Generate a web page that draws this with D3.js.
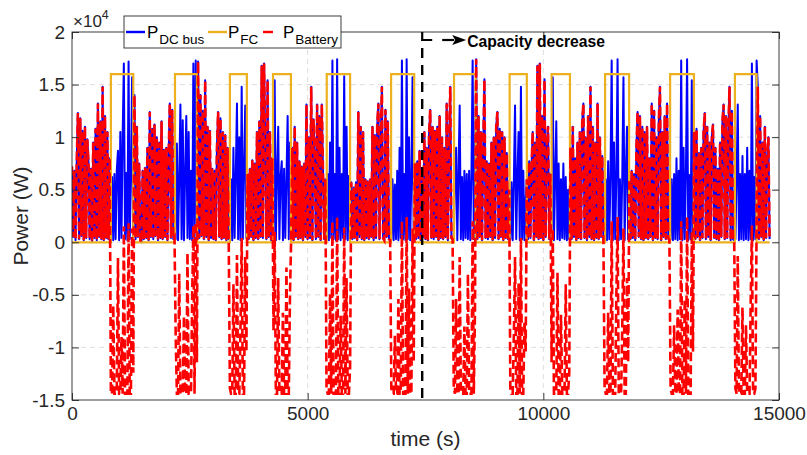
<!DOCTYPE html>
<html><head><meta charset="utf-8">
<script src="https://cdn.jsdelivr.net/npm/d3@7"></script>
<style>
body{margin:0;background:#fff}
svg{display:block}
text{font-family:"Liberation Sans",Arial,Helvetica,sans-serif;}
</style>
</head><body>
<svg id="chart" width="807" height="455"></svg>
<script>
// ---------------- DATA (kW, sampled every 25 s) ----------------
const sampleStep = 25; // seconds between samples
const pDcBus = [
 7.2,0.5,6.8,0.2,7.5,12.3,0.3,11.8,0.6,10.6,0.2,11.0,0.4,9.8,7.6,0.3,7.0,0,9.5,0.4,10.8,0.2,13.2,0.5,11.5,0.3,14.8,0.2,12.0,0.4,10.5,0.3,8.0,
 0.3,6.2,0.2,6.5,0.3,6.8,8.7,0.2,10.5,0.4,10.2,17.0,0.3,6.6,0.2,17.2,0.3,6.2,15.7,0.4,
 14.0,0.3,11.0,0.5,7.5,0.2,0,6.8,0.3,7.1,0.4,9.0,0.2,12.4,0.5,10.8,0.3,11.2,0.6,10.0,0.2,9.5,0.4,11.5,0.3,8.8,0.5,9.0,0.2,8.2,13.2,0.4,12.6,0.3,0.5,
 0.3,9.4,0.2,6.0,13.1,0.3,11.6,0.2,6.5,12.0,0.4,10.5,0.3,6.8,0.2,17.0,0.3,17.3,0.4,
 17.2,0.4,14.0,0.6,12.5,0.3,15.4,0.5,11.0,0.2,10.6,0.4,7.0,0.3,6.8,0.2,9.0,12.4,0.5,11.8,0.3,10.5,0.4,10.2,0.2,9.0,0.3,
 0.3,6.0,0.2,9.0,0.4,6.5,13.2,0.3,10.0,0.2,14.8,0.3,7.0,13.0,0.4,
 6.5,0.3,7.0,0.5,7.8,0.2,7.5,0.4,10.5,0.3,11.5,0.5,16.8,0.4,17.0,9.0,0.3,15.4,0.5,10.5,0.2,8.0,
 0.3,15.4,0.2,6.5,11.0,0.3,6.2,7.7,0.2,7.0,0.4,6.0,12.0,0.3,9.5,
 0.4,9.0,0.2,11.0,0.5,9.5,0.3,7.7,0.4,7.2,0.2,7.5,0.5,13.1,0.3,10.0,0.4,14.8,0.2,11.7,8.0,0.3,13.1,0.5,12.0,0.2,13.1,6.8,0.3,6.0,
 0.3,6.5,0.2,9.5,0.4,17.3,0.3,6.5,0.2,17.4,0.3,9.0,0.2,6.5,0.4,15.8,0.3,11.0,0.2,6.3,0.4,
 5.7,0.3,5.2,0.4,5.7,0.2,12.4,0.5,11.0,0.3,10.5,0.2,6.0,0.4,5.8,0.3,6.0,0.5,11.0,0.2,10.2,0.4,11.0,13.2,0.3,9.5,14.8,0.4,0.2,12.6,0.5,11.5,0.3,0.2,
 0.3,6.0,0.2,5.5,0.3,6.8,0.2,9.0,0.4,17.3,0.3,6.5,0.2,17.4,0.3,10.0,0.2,6.0,15.7,0.4,
 7.5,0.3,7.7,0.4,8.7,0.2,7.0,0.5,10.5,0.3,9.0,0.2,10.2,12.6,0.4,11.0,0.3,10.6,0.5,11.0,0.2,12.0,0.4,10.0,0.3,9.0,0.5,13.2,0.2,9.0,14.8,0.4,0.3,
 0.3,6.0,9.0,0.2,6.5,13.0,0.3,6.2,0.2,6.8,0.4,6.5,0.3,6.8,0.2,6.4,17.3,0.3,8.0,
 17.4,0.3,12.0,0.5,10.5,0.2,9.0,15.5,0.4,7.7,0.3,7.5,0.5,9.5,0.2,10.0,0.4,11.0,12.4,0.3,10.8,0.5,10.5,0.2,10.0,0.4,8.5,0.3,5.0,
 0.3,5.7,0.2,6.0,13.0,0.3,6.2,10.5,0.2,14.8,0.3,6.8,0.2,4.0,
 6.0,0.3,7.7,0.4,7.2,10.5,0.2,9.5,0.5,16.8,0.3,17.0,0.4,12.0,0.2,15.5,0.5,9.5,11.0,0.3,6.5,
 0.3,15.7,0.2,6.0,11.5,0.3,7.5,0.2,6.0,0.4,7.5,0.3,6.2,0.2,5.0,0.3,
 9.0,0.3,11.0,0.5,8.0,0.2,9.5,0.4,10.5,0.3,11.5,13.2,0.4,10.0,0.2,12.0,0.5,14.8,0.3,11.0,0.2,9.5,0.4,13.2,0.3,10.0,0.5,8.2,0.2,
 0.3,6.0,0.2,7.7,0.3,6.5,17.3,0.2,9.5,0.3,6.5,17.4,0.2,6.0,0.3,6.4,15.7,0.2,6.5,11.0,0.3,
 6.0,0.3,6.8,0.4,6.5,0.2,9.0,12.4,0.5,12.0,0.3,11.0,0.2,10.5,0.4,11.0,0.3,8.0,0.5,13.2,0.2,12.5,0.4,10.0,0.3,11.5,14.8,0.2,10.5,0.5,12.0,0.3,13.2,0.4,0.2,
 0.3,6.0,0.2,6.5,0.3,8.0,0.2,6.8,0.3,17.3,0.2,9.0,0.3,6.5,17.4,0.2,6.4,0.3,15.4,0.4,
 10.5,0.3,10.8,0.5,8.5,0.2,9.0,0.4,10.5,12.3,0.3,11.0,0.5,9.5,0.2,10.0,11.2,0.4,9.0,0.3,7.0,0.2,9.5,0.5,11.5,13.1,0.3,12.0,0.4,10.5,14.8,0.2,12.5,0.3,0.2,
 0.3,6.0,13.1,0.2,6.5,0.3,8.2,0.2,6.5,0.3,9.0,0.2,6.8,0.3,17.0,0.2,6.2,0.3,17.3,
 14.8,0.3,12.0,0.5,9.5,0.2,11.0,0.4,8.0,10.0,0.3
];
const pBattery = [
 7.2,0.5,6.8,0.2,7.5,12.3,0.3,11.8,0.6,10.6,0.2,11.0,0.4,9.8,7.6,0.3,7.0,0,9.5,0.4,10.8,0.2,13.2,0.5,11.5,0.3,14.8,0.2,12.0,0.4,10.5,0.3,8.0,
 -14.4,-14.4,-6.0,-14.4,-14.4,-14.4,-1.5,-14.4,-14.4,-9.0,-14.4,1.5,-14.4,-14.4,-14.4,1.8,-14.4,-14.4,1.3,-12.4,
 14.0,0.3,11.0,0.5,7.5,0.2,0,6.8,0.3,7.1,0.4,9.0,0.2,12.4,0.5,10.8,0.3,11.2,0.6,10.0,0.2,9.5,0.4,11.5,0.3,8.8,0.5,9.0,0.2,8.2,13.2,0.4,12.6,0.3,0.5,
 -8.9,-14.4,-14.4,-3.0,-14.4,-14.4,-14.4,-7.0,-14.4,-14.4,-1.0,-14.4,-14.4,-14.4,-5.0,1.6,-14.4,1.9,-11.4,
 17.2,0.4,14.0,0.6,12.5,0.3,15.4,0.5,11.0,0.2,10.6,0.4,7.0,0.3,6.8,0.2,9.0,12.4,0.5,11.8,0.3,10.5,0.4,10.2,0.2,9.0,0.3,
 -13.9,-14.4,-14.4,-4.0,-14.4,-14.4,-1.2,-14.4,-14.4,-8.0,0.4,-14.4,-14.4,-1.4,-10.4,
 6.5,0.3,7.0,0.5,7.8,0.2,7.5,0.4,10.5,0.3,11.5,0.5,16.8,0.4,17.0,9.0,0.3,15.4,0.5,10.5,0.2,8.0,
 -8.4,1.0,-14.4,-14.4,-3.4,-14.4,-14.4,-14.4,-6.7,-14.4,-14.4,-2.4,-14.4,-14.4,-4.9,
 0.4,9.0,0.2,11.0,0.5,9.5,0.3,7.7,0.4,7.2,0.2,7.5,0.5,13.1,0.3,10.0,0.4,14.8,0.2,11.7,8.0,0.3,13.1,0.5,12.0,0.2,13.1,6.8,0.3,6.0,
 -13.9,-14.4,-14.4,-4.9,-14.4,2.0,-14.4,-14.4,-14.4,2.4,-14.4,-14.4,-7.0,-14.4,-14.4,1.4,-14.4,-3.4,-14.4,-14.4,-11.9,
 5.7,0.3,5.2,0.4,5.7,0.2,12.4,0.5,11.0,0.3,10.5,0.2,6.0,0.4,5.8,0.3,6.0,0.5,11.0,0.2,10.2,0.4,11.0,13.2,0.3,9.5,14.8,0.4,0.2,12.6,0.5,11.5,0.3,0.2,
 -13.9,-14.4,-14.4,-8.9,-14.4,-14.4,-5.4,-14.4,-14.4,2.0,-14.4,-14.4,-14.4,2.4,-14.4,-4.4,-14.4,-14.4,1.3,-11.4,
 7.5,0.3,7.7,0.4,8.7,0.2,7.0,0.5,10.5,0.3,9.0,0.2,10.2,12.6,0.4,11.0,0.3,10.6,0.5,11.0,0.2,12.0,0.4,10.0,0.3,9.0,0.5,13.2,0.2,9.0,14.8,0.4,0.3,
 -13.9,-14.4,-5.4,-14.4,-14.4,-1.4,-14.4,-14.4,-14.4,-8.0,-14.4,-14.4,-3.0,-14.4,-14.4,-14.4,2.0,-14.4,-6.4,
 17.4,0.3,12.0,0.5,10.5,0.2,9.0,15.5,0.4,7.7,0.3,7.5,0.5,9.5,0.2,10.0,0.4,11.0,12.4,0.3,10.8,0.5,10.5,0.2,10.0,0.4,8.5,0.3,5.0,
 -13.9,-14.4,-14.4,-8.7,-1.4,-14.4,-14.4,-3.9,-14.4,0.4,-14.4,-14.4,-7.6,-10.4,
 6.0,0.3,7.7,0.4,7.2,10.5,0.2,9.5,0.5,16.8,0.3,17.0,0.4,12.0,0.2,15.5,0.5,9.5,11.0,0.3,6.5,
 -11.4,1.3,-14.4,-14.4,-14.4,-2.9,-14.4,-14.4,-6.9,-14.4,-14.4,-14.4,-4.0,-14.4,-14.4,-12.4,
 9.0,0.3,11.0,0.5,8.0,0.2,9.5,0.4,10.5,0.3,11.5,13.2,0.4,10.0,0.2,12.0,0.5,14.8,0.3,11.0,0.2,9.5,0.4,13.2,0.3,10.0,0.5,8.2,0.2,
 -13.9,-14.4,-14.4,-6.7,-14.4,-14.4,2.0,-14.4,-14.4,-14.4,-4.9,2.4,-14.4,-14.4,-14.4,-8.0,1.3,-14.4,-14.4,-3.4,-11.4,
 6.0,0.3,6.8,0.4,6.5,0.2,9.0,12.4,0.5,12.0,0.3,11.0,0.2,10.5,0.4,11.0,0.3,8.0,0.5,13.2,0.2,12.5,0.4,10.0,0.3,11.5,14.8,0.2,10.5,0.5,12.0,0.3,13.2,0.4,0.2,
 -13.9,-14.4,-14.4,-7.9,-14.4,-14.4,-6.4,-14.4,-14.4,2.0,-14.4,-14.4,-5.4,-14.4,2.4,-14.4,-14.4,-14.4,1.0,-10.4,
 10.5,0.3,10.8,0.5,8.5,0.2,9.0,0.4,10.5,12.3,0.3,11.0,0.5,9.5,0.2,10.0,11.2,0.4,9.0,0.3,7.0,0.2,9.5,0.5,11.5,13.1,0.3,12.0,0.4,10.5,14.8,0.2,12.5,0.3,0.2,
 -13.9,-14.4,-1.3,-14.4,-14.4,-14.4,-6.2,-14.4,-14.4,-7.9,-14.4,-14.4,-14.4,-5.4,1.6,-14.4,-14.4,-13.9,1.9,
 14.8,0.3,12.0,0.5,9.5,0.2,11.0,0.4,8.0,10.0,0.3
];
const fcOnTimes  = [825,2185,3350,4265,5405,6770,8105,9285,10175,11310,12690,14065];
const fcOffTimes = [1300,2650,3710,4645,5900,7260,8565,9650,10565,11820,13195,14525];
const fcRatedKW = 16;
const capacityDecreaseTime = 7430;
const xTickValues = [0,5000,10000,15000];
const yTickValues = [-15000,-10000,-5000,0,5000,10000,15000,20000];
const yTickLabels = ["-1.5","-1","-0.5","0","0.5","1","1.5","2"];
const seriesNames = ["DC bus","FC","Battery"];

// ---------------- BUILD ----------------
const timeS = pDcBus.map((_, i) => i * sampleStep);
const endTime = timeS[timeS.length - 1];
const fcPts = [[0,0]];
fcOnTimes.forEach((on, k) => {
  fcPts.push([on,0],[on,fcRatedKW],[fcOffTimes[k],fcRatedKW],[fcOffTimes[k],0]);
});
fcPts.push([endTime,0]);

const svg = d3.select("#chart");
const L = 72, R = 779, T = 32, B = 400;
const x = d3.scaleLinear().domain([0,15000]).range([L,R]);
const y = d3.scaleLinear().domain([-15000,20000]).range([B,T]);
const axisCol = "#262626";

// grid
const grid = svg.append("g").attr("stroke","#d4d4d4").attr("stroke-width",0.8).attr("stroke-dasharray","5,4");
yTickValues.slice(1,-1).forEach(v => grid.append("line").attr("x1",L).attr("x2",R).attr("y1",y(v)).attr("y2",y(v)));
xTickValues.slice(1,-1).forEach(v => grid.append("line").attr("y1",T).attr("y2",B).attr("x1",x(v)).attr("x2",x(v)));

// clip
svg.append("clipPath").attr("id","clip").append("rect").attr("x",L).attr("y",T).attr("width",R-L).attr("height",B-T);
const plot = svg.append("g").attr("clip-path","url(#clip)");

const lineKW = d3.line().x((d,i)=>x(timeS[i])).y(d=>y(d*1000));
plot.append("path").attr("d",lineKW(pDcBus)).attr("fill","none").attr("stroke","#0000ff").attr("stroke-width",2).attr("stroke-linejoin","round");
plot.append("path").attr("d",d3.line().x(d=>x(d[0])).y(d=>y(d[1]*1000))(fcPts)).attr("fill","none").attr("stroke","#EDB120").attr("stroke-width",2.2);
plot.append("path").attr("d",lineKW(pBattery)).attr("fill","none").attr("stroke","#ff0000").attr("stroke-width",2.6).attr("stroke-dasharray","9,4");

// capacity decrease marker
const xc = x(capacityDecreaseTime);
svg.append("line").attr("x1",xc).attr("x2",xc).attr("y1",T+8).attr("y2",B).attr("stroke","#000").attr("stroke-width",2.4).attr("stroke-dasharray","10,7").attr("stroke-dashoffset",-8);

// axes
const gx = svg.append("g").attr("transform",`translate(0,${B})`)
  .call(d3.axisBottom(x).tickValues(xTickValues).tickFormat(d3.format("d")).tickSizeInner(-7).tickSizeOuter(0).tickPadding(7));
const gy = svg.append("g").attr("transform",`translate(${L},0)`)
  .call(d3.axisLeft(y).tickValues(yTickValues).tickFormat((d,i)=>yTickLabels[i]).tickSizeInner(-7).tickSizeOuter(0).tickPadding(7));
const gxt = svg.append("g").attr("transform",`translate(0,${T})`)
  .call(d3.axisTop(x).tickValues(xTickValues).tickFormat("").tickSizeInner(-7).tickSizeOuter(0));
const gyr = svg.append("g").attr("transform",`translate(${R},0)`)
  .call(d3.axisRight(y).tickValues(yTickValues).tickFormat("").tickSizeInner(-7).tickSizeOuter(0));
[gx,gy,gxt,gyr].forEach(g=>{
  g.select(".domain").remove();
  g.selectAll("line").attr("stroke",axisCol).attr("stroke-width",0.9);
  g.selectAll("text").attr("fill",axisCol).style("font-size","19px").style("font-family","'Liberation Sans',Arial,sans-serif");
});
svg.append("rect").attr("x",L).attr("y",T).attr("width",R-L).attr("height",B-T).attr("fill","none").attr("stroke",axisCol).attr("stroke-width",0.9);

// exponent
const ex = svg.append("text").attr("x",L+1).attr("y",27).attr("fill",axisCol).style("font-size","17px");
ex.append("tspan").text("\u00d710");
ex.append("tspan").attr("dy",-8).style("font-size","12.5px").text("4");

// axis labels
svg.append("text").attr("x",(L+R)/2).attr("y",446).attr("text-anchor","middle").attr("fill",axisCol).style("font-size","21px").text("time (s)");
svg.append("text").attr("transform",`translate(28,${(T+B)/2}) rotate(-90)`).attr("text-anchor","middle").attr("fill",axisCol).style("font-size","21px").text("Power (W)");

// legend
const lg = svg.append("g");
lg.append("rect").attr("x",124).attr("y",16).attr("width",217).attr("height",32).attr("fill","#fff").attr("stroke",axisCol).attr("stroke-width",0.9);
const legendItems = [
  {name:seriesNames[0], col:"#0000ff", x1:126, x2:145, tx:147},
  {name:seriesNames[1], col:"#EDB120", x1:208, x2:227, tx:228},
  {name:seriesNames[2], col:"#ff0000", x1:263, x2:273, tx:283}
];
legendItems.forEach(it=>{
  lg.append("line").attr("x1",it.x1).attr("x2",it.x2).attr("y1",32).attr("y2",32).attr("stroke",it.col).attr("stroke-width",2.4);
  const t = lg.append("text").attr("x",it.tx).attr("y",37.5).attr("fill","#000").style("font-size","17px");
  t.append("tspan").text("P");
  t.append("tspan").attr("dx",1).attr("dy",6).style("font-size","13.5px").text(it.name);
});

// annotation
const an = svg.append("g");
an.append("path").attr("d",`M${xc},${T} V40 H${xc+10}`).attr("fill","none").attr("stroke","#000").attr("stroke-width",2.2);
an.append("line").attr("x1",xc+20).attr("x2",xc+32).attr("y1",40).attr("y2",40).attr("stroke","#000").attr("stroke-width",2.2);
an.append("path").attr("d",`M${xc+30},35 L${xc+44},40 L${xc+30},45 L${xc+33},40 Z`).attr("fill","#000");
an.append("text").attr("x",xc+45).attr("y",47).attr("fill","#000").style("font-size","15.7px").style("font-weight","bold").text("Capacity decrease");
</script>
</body></html>
